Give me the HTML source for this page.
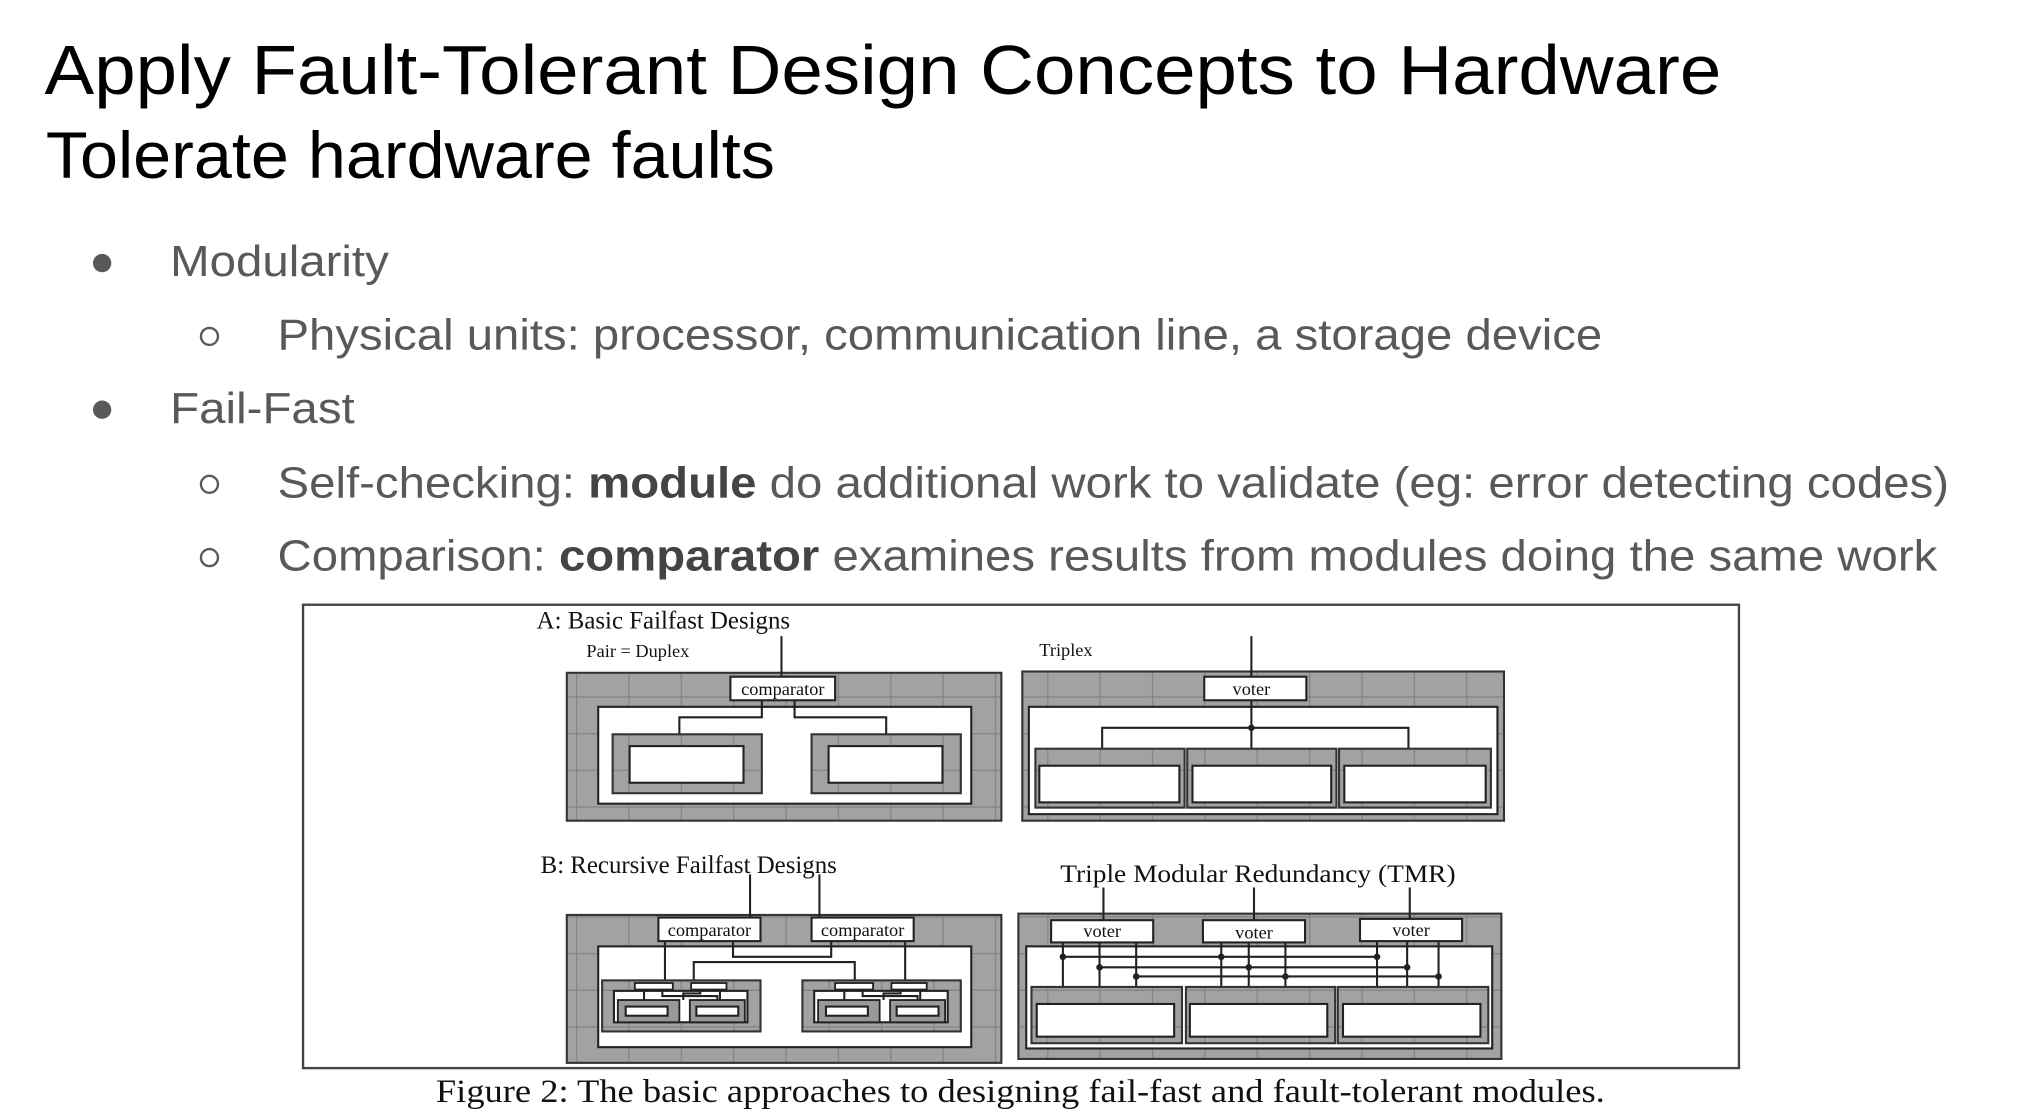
<!DOCTYPE html>
<html><head><meta charset="utf-8"><style>
html,body{margin:0;padding:0;background:#fff;width:2042px;height:1116px;overflow:hidden}
svg{display:block}
.t{font-family:"Liberation Sans",sans-serif}
.s{font-family:"Liberation Serif",serif;fill:#111}
.g{fill:#8f8f8f;stroke:#333;stroke-width:1.6}
.w{fill:#fff;stroke:#222;stroke-width:1.6}
.l{stroke:#222;stroke-width:1.6;fill:none}
</style></head><body>
<svg width="2042" height="1116" viewBox="0 0 1560 852.6" xmlns="http://www.w3.org/2000/svg">
<defs>
<pattern id="p" width="40" height="28" patternUnits="userSpaceOnUse">
<rect width="40" height="28" fill="#a2a2a2"/>
<path d="M0 0H40M0 0V28" stroke="#858585" stroke-width="2"/>
</pattern>
</defs>
<text class="t" x="34" y="72" font-size="53" fill="#000" textLength="1281" lengthAdjust="spacingAndGlyphs">Apply Fault-Tolerant Design Concepts to Hardware</text>
<text class="t" x="35" y="136" font-size="50" fill="#000" textLength="557" lengthAdjust="spacingAndGlyphs">Tolerate hardware faults</text>
<g class="t" fill="#595959" font-size="33">
<circle cx="78" cy="201" r="7" fill="#595959"/>
<text x="130" y="211" textLength="167" lengthAdjust="spacingAndGlyphs">Modularity</text>
<circle cx="160" cy="257" r="6.5" fill="none" stroke="#595959" stroke-width="1.8"/>
<text x="212" y="267" textLength="1012" lengthAdjust="spacingAndGlyphs">Physical units: processor, communication line, a storage device</text>
<circle cx="78" cy="313" r="7" fill="#595959"/>
<text x="130" y="323" textLength="141" lengthAdjust="spacingAndGlyphs">Fail-Fast</text>
<circle cx="160" cy="370" r="6.5" fill="none" stroke="#595959" stroke-width="1.8"/>
<text x="212" y="380" textLength="1277" lengthAdjust="spacingAndGlyphs">Self-checking: <tspan font-weight="bold" fill="#444">module</tspan> do additional work to validate (eg: error detecting codes)</text>
<circle cx="160" cy="426" r="6.5" fill="none" stroke="#595959" stroke-width="1.8"/>
<text x="212" y="436" textLength="1268" lengthAdjust="spacingAndGlyphs">Comparison: <tspan font-weight="bold" fill="#444">comparator</tspan> examines results from modules doing the same work</text>
</g>
<rect x="231.5" y="462" width="1097" height="354" fill="#fff" stroke="#444" stroke-width="1.8"/>
<!-- A duplex -->
<text class="s" x="410" y="480" font-size="19">A: Basic Failfast Designs</text>
<text class="s" x="448" y="502" font-size="14">Pair = Duplex</text>
<rect x="433" y="514" width="332" height="113" fill="url(#p)" stroke="#333" stroke-width="1.6"/>
<rect class="w" x="457" y="540" width="285" height="74"/>
<path class="l" d="M597 486V517M582 535V548H519V561M607 535V548H677V561"/>
<rect class="w" x="558" y="517" width="80" height="18"/>
<text class="s" x="598" y="531" font-size="14" text-anchor="middle">comparator</text>
<rect x="468" y="561" width="114" height="45" fill="url(#p)" stroke="#333" stroke-width="1.6"/>
<rect class="w" x="481" y="570" width="87" height="28"/>
<rect x="620" y="561" width="114" height="45" fill="url(#p)" stroke="#333" stroke-width="1.6"/>
<rect class="w" x="633" y="570" width="87" height="28"/>
<!-- Triplex -->
<text class="s" x="794" y="501" font-size="14">Triplex</text>
<rect x="781" y="513" width="368" height="114" fill="url(#p)" stroke="#333" stroke-width="1.6"/>
<rect class="w" x="786" y="540" width="358" height="82"/>
<path class="l" d="M956 486V572M842 572V556H1076V572"/>
<circle cx="956" cy="556" r="2.5" fill="#222"/>
<rect class="w" x="920" y="517" width="78" height="18"/>
<text class="s" x="956" y="531" font-size="14" text-anchor="middle">voter</text>
<g fill="url(#p)" stroke="#333" stroke-width="1.6">
<rect x="791" y="572" width="114" height="45"/><rect x="907" y="572" width="114" height="45"/><rect x="1023" y="572" width="116" height="45"/>
</g>
<rect class="w" x="794" y="585" width="107" height="28"/><rect class="w" x="911" y="585" width="106" height="28"/><rect class="w" x="1027" y="585" width="108" height="28"/>
<!-- B recursive -->
<text class="s" x="413" y="667" font-size="19">B: Recursive Failfast Designs</text>
<rect x="433" y="699" width="332" height="113" fill="url(#p)" stroke="#333" stroke-width="1.6"/>
<rect class="w" x="457" y="723" width="285" height="77"/>
<path class="l" d="M573 668V703M626 668V703M508 716V749M691.5 716V749M560 716V731H635V716M530 749V735H653V749"/>
<rect class="w" x="503" y="701" width="78" height="18"/>
<text class="s" x="542" y="715" font-size="14" text-anchor="middle">comparator</text>
<rect class="w" x="620" y="701" width="78" height="18"/>
<text class="s" x="659" y="715" font-size="14" text-anchor="middle">comparator</text>
<g id="sub">
<rect x="460" y="749" width="121" height="39" fill="url(#p)" stroke="#333" stroke-width="1.6"/>
<rect class="w" x="469" y="757" width="102" height="24"/>
<rect x="485" y="751" width="29" height="5" fill="#fff" stroke="#222" stroke-width="1.4"/>
<rect x="528" y="751" width="27" height="5" fill="#fff" stroke="#222" stroke-width="1.4"/>
<path class="l" d="M492 756V764M506 756V761H548V764M535 756V759H522V764M550 756V764" stroke-width="1.2"/>
<rect x="472" y="764" width="47" height="17" fill="#999" stroke="#222" stroke-width="1.4"/>
<rect x="527" y="764" width="42" height="17" fill="#999" stroke="#222" stroke-width="1.4"/>
<rect class="w" x="478" y="769" width="32" height="7" stroke-width="1.2"/>
<rect class="w" x="532" y="769" width="32" height="7" stroke-width="1.2"/>
</g>
<use href="#sub" x="153"/>
<!-- TMR -->
<text class="s" x="810" y="674" font-size="19" textLength="302" lengthAdjust="spacingAndGlyphs">Triple Modular Redundancy (TMR)</text>
<rect x="778" y="698" width="369" height="111" fill="url(#p)" stroke="#333" stroke-width="1.6"/>
<rect class="w" x="784" y="723" width="356" height="78"/>
<path class="l" d="M843 678V703M958 678V703M1077 678V703
M812 716V754M840 716V754M868 716V754M933 716V754M954 716V754M982 716V754M1052 716V754M1075 716V754M1099 716V754
M812 731H1052M840 739H1076M868 746H1100" stroke-width="1.8"/>
<g fill="#222"><circle cx="812" cy="731" r="2.5"/><circle cx="933" cy="731" r="2.5"/><circle cx="1052" cy="731" r="2.5"/>
<circle cx="840" cy="739" r="2.5"/><circle cx="954" cy="739" r="2.5"/><circle cx="1075" cy="739" r="2.5"/>
<circle cx="868" cy="746" r="2.5"/><circle cx="982" cy="746" r="2.5"/><circle cx="1099" cy="746" r="2.5"/></g>
<rect class="w" x="803" y="703" width="78" height="17"/><text class="s" x="842" y="716" font-size="14" text-anchor="middle">voter</text>
<rect class="w" x="919" y="703" width="78" height="17"/><text class="s" x="958" y="717" font-size="14" text-anchor="middle">voter</text>
<rect class="w" x="1039" y="702" width="78" height="17"/><text class="s" x="1078" y="715" font-size="14" text-anchor="middle">voter</text>
<g fill="url(#p)" stroke="#333" stroke-width="1.6">
<rect x="788" y="754" width="115" height="43"/><rect x="906" y="754" width="114" height="43"/><rect x="1022" y="754" width="115" height="43"/>
</g>
<rect class="w" x="792" y="767" width="105" height="25"/><rect class="w" x="909" y="767" width="105" height="25"/><rect class="w" x="1026" y="767" width="105" height="25"/>
<text class="s" x="333" y="842" font-size="25" textLength="893" lengthAdjust="spacingAndGlyphs">Figure 2: The basic approaches to designing fail-fast and fault-tolerant modules.</text>
</svg>
</body></html>
